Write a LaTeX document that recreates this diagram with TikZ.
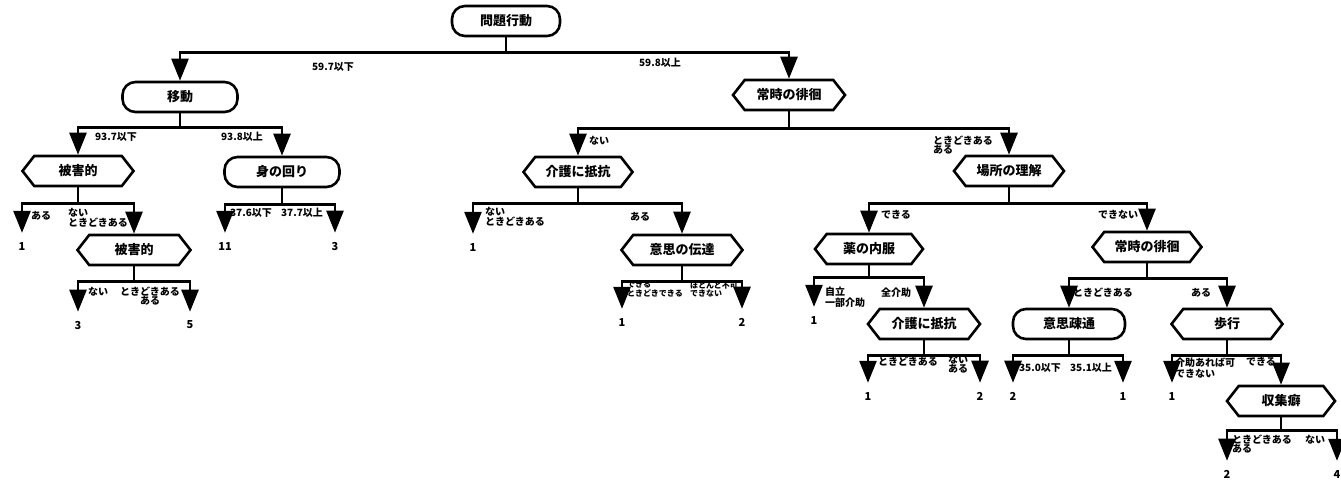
\documentclass[tikz,border=0pt]{standalone}
\usepackage{fontspec}
\setmainfont{Noto Sans CJK JP}
\usetikzlibrary{arrows.meta,shapes.symbols}
\tikzset{
  ntext/.style={font=\bfseries\fontsize{13}{13}\selectfont},
  rbox/.style={ntext, draw, line width=2.6pt, rounded corners=13pt, minimum height=30pt, inner sep=0pt},
  hbox/.style={ntext, draw, line width=2.6pt, signal, signal to=west and east, signal pointer angle=104, minimum height=30pt, inner sep=0pt},
  link/.style={line width=2.6pt, -{Triangle[width=17pt,length=22pt]}},
  leafarrow/.style={link, shorten >=9pt},
  leaf/.style={font=\bfseries\fontsize{11}{11}\selectfont, inner sep=0pt},
  lab/.style={font=\bfseries\fontsize{10}{9}\selectfont, inner sep=0pt},
  mlab/.style={lab, anchor=north west, align=left},
  slab/.style={font=\bfseries\fontsize{8}{6}\selectfont, inner sep=0pt, anchor=north west, align=left},
}
\begin{document}
\begin{tikzpicture}[x=1pt,y=-1pt]
\useasboundingbox (0,0) rectangle (1341,483);
% nodes
\node[rbox, minimum width=108pt] (root) at (506,21) {問題行動};
\node[rbox, minimum width=115pt] (idou) at (180,97) {移動};
\node[hbox, minimum width=112pt] (haikai1) at (789,95) {常時の徘徊};
\node[hbox, minimum width=111pt] (higai1) at (78,171) {被害的};
\node[rbox, minimum width=115pt] (mino) at (282,172) {身の回り};
\node[hbox, minimum width=109pt] (kaigo1) at (578,172) {介護に抵抗};
\node[hbox, minimum width=110pt] (basho) at (1009,171) {場所の理解};
\node[hbox, minimum width=113pt] (higai2) at (134,250) {被害的};
\node[hbox, minimum width=121pt] (ishi) at (682,250) {意思の伝達};
\node[hbox, minimum width=108pt] (kusuri) at (869,249) {薬の内服};
\node[hbox, minimum width=109pt] (haikai2) at (1147,247) {常時の徘徊};
\node[hbox, minimum width=112pt] (kaigo2) at (924,324) {介護に抵抗};
\node[rbox, minimum width=112pt] (sotsu) at (1069,324) {意思疎通};
\node[hbox, minimum width=111pt] (hokou) at (1227,324) {歩行};
\node[hbox, minimum width=108pt] (shushu) at (1281,401) {収集癖};
% leaves
\node[leaf] (l1) at (22,246) {1};
\node[leaf] (l2) at (78,325) {3};
\node[leaf] (l3) at (190,325) {5};
\node[leaf] (l4) at (225,246) {11};
\node[leaf] (l5) at (335,246) {3};
\node[leaf] (l6) at (473,247) {1};
\node[leaf] (l7) at (622,322) {1};
\node[leaf] (l8) at (742,322) {2};
\node[leaf] (l9) at (814,320) {1};
\node[leaf] (l10) at (868,396) {1};
\node[leaf] (l11) at (980,396) {2};
\node[leaf] (l12) at (1013,396) {2};
\node[leaf] (l13) at (1123,396) {1};
\node[leaf] (l14) at (1172,396) {1};
\node[leaf] (l15) at (1227,474) {2};
\node[leaf] (l16) at (1337,474) {4};
% connectors
\draw[link] (root.south) -- ++(0,15) -| (idou.north);
\draw[link] (root.south) -- ++(0,15) -| (haikai1.north);
\draw[link] (idou.south) -- ++(0,14) -| (higai1.north);
\draw[link] (idou.south) -- ++(0,14) -| (mino.north);
\draw[link] (haikai1.south) -- ++(0,17) -| (kaigo1.north);
\draw[link] (haikai1.south) -- ++(0,17) -| (basho.north);
\draw[leafarrow] (higai1.south) -- ++(0,16) -| (l1.north);
\draw[link] (higai1.south) -- ++(0,16) -| (higai2.north);
\draw[leafarrow] (mino.south) -- ++(0,16) -| (l4.north);
\draw[leafarrow] (mino.south) -- ++(0,16) -| (l5.north);
\draw[leafarrow] (kaigo1.south) -- ++(0,15) -| (l6.north);
\draw[link] (kaigo1.south) -- ++(0,15) -| (ishi.north);
\draw[link] (basho.south) -- ++(0,16) -| (kusuri.north);
\draw[link] (basho.south) -- ++(0,16) -| (haikai2.north);
\draw[leafarrow] (higai2.south) -- ++(0,15) -| (l2.north);
\draw[leafarrow] (higai2.south) -- ++(0,15) -| (l3.north);
\draw[leafarrow] (ishi.south) -- ++(0,15) -| (l7.north);
\draw[leafarrow] (ishi.south) -- ++(0,15) -| (l8.north);
\draw[leafarrow] (kusuri.south) -- ++(0,12) -| (l9.north);
\draw[link] (kusuri.south) -- ++(0,12) -| (kaigo2.north);
\draw[link] (haikai2.south) -- ++(0,15) -| (sotsu.north);
\draw[link] (haikai2.south) -- ++(0,15) -| (hokou.north);
\draw[leafarrow] (kaigo2.south) -- ++(0,15) -| (l10.north);
\draw[leafarrow] (kaigo2.south) -- ++(0,15) -| (l11.north);
\draw[leafarrow] (sotsu.south) -- ++(0,15) -| (l12.north);
\draw[leafarrow] (sotsu.south) -- ++(0,15) -| (l13.north);
\draw[leafarrow] (hokou.south) -- ++(0,15) -| (l14.north);
\draw[link] (hokou.south) -- ++(0,15) -| (shushu.north);
\draw[leafarrow] (shushu.south) -- ++(0,13) -| (l15.north);
\draw[leafarrow] (shushu.south) -- ++(0,13) -| (l16.north);
% labels
\node[lab] (t1) at (333,67) {59.7以下};
\node[lab] (t2) at (660,63) {59.8以上};
\node[lab] (t3) at (116,137) {93.7以下};
\node[lab] (t4) at (242,137) {93.8以上};
\node[lab] (t5) at (599,141) {ない};
\node[mlab] (t6) at (933,136) {ときどきある\\ある};
\node[lab] (t7) at (41,216) {ある};
\node[mlab] (t8) at (68,208) {ない\\ときどきある};
\node[lab] (t9a) at (98,292) {ない};
\node[lab, anchor=north, align=center] (t9) at (150,287) {ときどきある\\ある};
\node[lab] (t10) at (251,213) {37.6以下};
\node[lab] (t11) at (302,213) {37.7以上};
\node[mlab] (t12) at (485,207) {ない\\ときどきある};
\node[lab] (t13) at (640,217) {ある};
\node[slab] (t14) at (627,281) {できる\\ときどきできる};
\node[slab] (t14b) at (690,281) {ほとんど不可\\できない};
\node[lab] (t15) at (896,215) {できる};
\node[lab] (t16) at (1118,215) {できない};
\node[mlab] (t17) at (825,287) {自立\\一部介助};
\node[lab] (t18) at (896,293) {全介助};
\node[lab] (t19) at (908,362) {ときどきある};
\node[mlab] (t20) at (948,355) {ない\\ある};
\node[lab] (t21) at (1103,293) {ときどきある};
\node[lab] (t22) at (1201,293) {ある};
\node[lab] (t23) at (1040,368) {35.0以下};
\node[lab] (t24) at (1091,368) {35.1以上};
\node[mlab] (t25) at (1175,358) {介助あれば可\\できない};
\node[lab] (t26) at (1261,362) {できる};
\node[mlab] (t27) at (1232,435) {ときどきある\\ある};
\node[lab] (t28) at (1315,440) {ない};
\end{tikzpicture}
\end{document}
